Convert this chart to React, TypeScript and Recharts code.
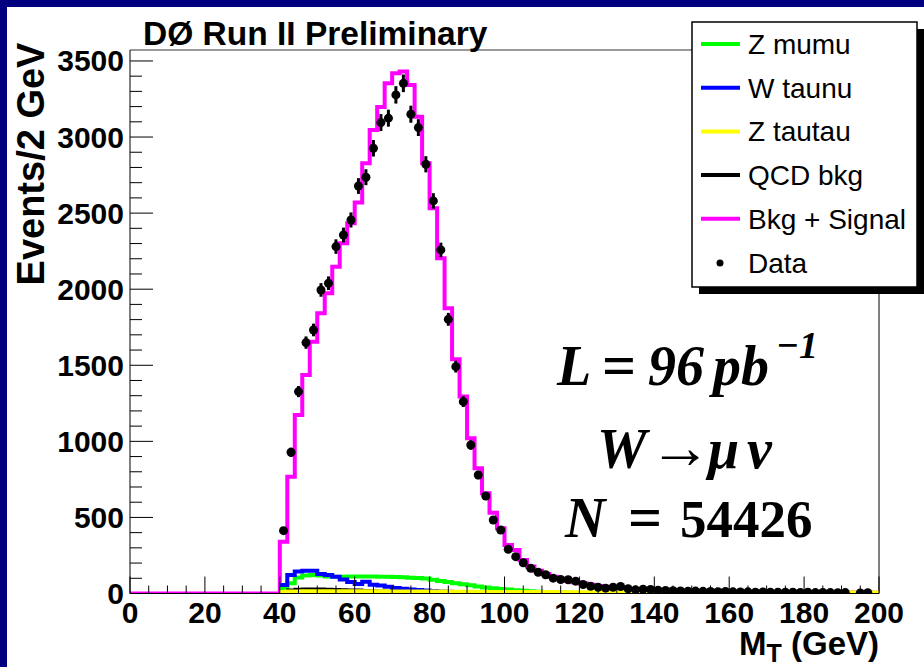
import React from 'react';
import { ComposedChart, Line, Scatter, ErrorBar, XAxis, YAxis, ReferenceLine } from 'recharts';

const W = 924;
const H = 667;

// 2 GeV bins covering 40-200 GeV (80 bins)
const binStart = 40;
const binWidth = 2;

// Bkg + Signal (stacked expectation)
const bkgPlusSignal = [
  340, 768, 1173, 1436, 1655, 1842, 1973, 2148, 2302, 2433,
  2569, 2828, 3046, 3198, 3353, 3419, 3430, 3342, 3134, 2828,
  2532, 2203, 1875, 1539, 1294, 1020, 823, 659, 531, 429,
  319, 286, 220, 178, 150, 128, 110, 96, 84, 74,
  65, 57, 50, 44, 40, 36, 32, 29, 27, 25,
  23, 21, 20, 19, 18, 17, 16, 15, 14, 14,
  13, 12, 12, 11, 11, 10, 10, 9, 9, 9,
  8, 8, 8, 7, 7, 7, 6, 6, 6, 5,
];

const zMumu = [
  30, 67, 105, 118, 122, 118, 112, 110, 110, 112,
  112, 112, 112, 110, 110, 108, 106, 104, 102, 98,
  90, 82, 75, 67, 60, 54, 46, 40, 35, 30,
  26, 22, 18, 15, 12, 10, 8, 6, 5, 4,
  3, 3, 2, 2, 2, 1, 1, 1, 1, 1,
  1, 1, 1, 1, 1, 0, 0, 0, 0, 0,
  0, 0, 0, 0, 0, 0, 0, 0, 0, 0,
  0, 0, 0, 0, 0, 0, 0, 0, 0, 0,
];

const wTaunu = [
  56, 122, 144, 150, 150, 128, 122, 110, 92, 75,
  62, 78, 58, 52, 45, 36, 32, 26, 23, 20,
  16, 13, 11, 9, 7, 6, 5, 4, 3, 3,
  2, 2, 1, 1, 1, 1, 0, 0, 0, 0,
  0, 0, 0, 0, 0, 0, 0, 0, 0, 0,
  0, 0, 0, 0, 0, 0, 0, 0, 0, 0,
  0, 0, 0, 0, 0, 0, 0, 0, 0, 0,
  0, 0, 0, 0, 0, 0, 0, 0, 0, 0,
];

const zTautau = [
  4, 6, 7, 8, 8, 8, 8, 8, 8, 8,
  8, 8, 8, 8, 7, 7, 7, 7, 6, 6,
  6, 6, 5, 5, 5, 5, 4, 4, 4, 4,
  4, 3, 3, 3, 3, 3, 3, 2, 2, 2,
  2, 2, 2, 2, 2, 2, 1, 1, 1, 1,
  1, 1, 1, 1, 1, 1, 1, 1, 1, 1,
  1, 1, 1, 1, 1, 1, 1, 1, 1, 1,
  1, 1, 1, 1, 1, 1, 0, 0, 0, 0,
];

const qcdBkg = [
  12, 24, 30, 32, 32, 31, 30, 28, 27, 25,
  24, 22, 20, 18, 16, 14, 12, 11, 10, 9,
  8, 7, 6, 5, 5, 4, 4, 3, 3, 3,
  2, 2, 2, 2, 2, 2, 2, 2, 2, 2,
  2, 2, 2, 2, 2, 1, 1, 1, 1, 1,
  1, 1, 1, 1, 1, 1, 1, 1, 1, 1,
  1, 1, 1, 1, 1, 1, 1, 1, 1, 1,
  1, 1, 1, 1, 1, 1, 1, 1, 1, 1,
];

// observed events per bin (null = empty bin)
const dataCounts = [
  413, 928, 1327, 1649, 1732, 1995, 2039, 2280, 2356, 2455,
  2678, 2736, 2926, 3095, 3124, 3277, 3353, 3150, 3062, 2821,
  2580, 2258, 1802, 1491, 1261, 976, 779, 641, 483, 417,
  291, 242, 202, 166, 140, 123, 101, 92, 90, 81,
  59, 48, 41, 35, 41, 46, 31, 24, 28, 26,
  22, 20, 18, 17, 15, 16, 14, 13, 12, 13,
  11, 10, 11, 9, 10, 9, 8, 9, 8, 7,
  8, 6, 7, 6, 5, 6, null, 4, 5, null,
];

const xMajor = [0, 20, 40, 60, 80, 100, 120, 140, 160, 180, 200];
const yMajor = [0, 500, 1000, 1500, 2000, 2500, 3000, 3500];
const X_MAX = 200;
const Y_MAX = 3572;

const legendItems = [
  { label: 'Z mumu', color: '#00ff00' },
  { label: 'W taunu', color: '#0000ff' },
  { label: 'Z tautau', color: '#ffff00' },
  { label: 'QCD bkg', color: '#000000' },
  { label: 'Bkg + Signal', color: '#ff00ff' },
];

// step table: one row per bin low edge, plus the closing edge
const steps: any[] = [{ x: 0, sum: 0 }];
for (let i = 0; i <= bkgPlusSignal.length; i++) {
  const k = Math.min(i, bkgPlusSignal.length - 1);
  steps.push({
    x: binStart + i * binWidth,
    sum: bkgPlusSignal[k],
    zmm: zMumu[k],
    wtn: wTaunu[k],
    ztt: zTautau[k],
    qcd: qcdBkg[k],
  });
}

const points = dataCounts
  .map((v, i) => (v == null ? null : { x: binStart + (i + 0.5) * binWidth, y: v, err: Math.sqrt(v) }))
  .filter(Boolean);

// major + minor tick positions
const xTicks: number[] = [];
for (let v = 0; v <= X_MAX; v += 5) xTicks.push(v);
const yTicks: number[] = [];
for (let v = 0; v <= 3500; v += 100) yTicks.push(v);

const SANS = '"Liberation Sans", Arial, Helvetica, sans-serif';
const SERIF = '"Liberation Serif", "Times New Roman", serif';

const XTick = (props: any) => {
  const { x, y, payload } = props;
  const major = xMajor.includes(payload.value);
  return (
    <g>
      <line x1={x} x2={x} y1={y} y2={y - (major ? 17 : 8)} stroke="#000" strokeWidth={1} />
      {major && (
        <text x={x} y={y + 29.5} textAnchor="middle" fontSize={30} fontWeight="bold" fontFamily={SANS} fill="#000">
          {payload.value}
        </text>
      )}
    </g>
  );
};

const YTick = (props: any) => {
  const { x, y, payload } = props;
  const major = yMajor.includes(payload.value);
  return (
    <g>
      <line x1={x} x2={x + (major ? 23 : 12)} y1={y} y2={y} stroke="#000" strokeWidth={1} />
      {major && (
        <text x={x - 6} y={y + 10.5} textAnchor="end" fontSize={30} fontWeight="bold" fontFamily={SANS} fill="#000">
          {payload.value}
        </text>
      )}
    </g>
  );
};

const Overlay = () => (
  <svg width={W} height={H} style={{ position: 'absolute', left: 0, top: 0, pointerEvents: 'none' }}>
    {/* frame border */}
    <rect x={0} y={0} width={7} height={H} fill="#000080" />
    <rect x={0} y={0} width={W} height={7} fill="#000080" />

    <text x={143} y={45} fontSize={33.5} fontWeight="bold" fontFamily={SANS} fill="#000">DØ Run II Preliminary</text>

    <text transform="translate(44,164) rotate(-90)" textAnchor="middle" fontSize={38} fontWeight="bold" fontFamily={SANS} fill="#000">
      Events/2 GeV
    </text>

    <text x={879} y={655} textAnchor="end" fontSize={33} fontWeight="bold" fontFamily={SANS} fill="#000">
      M<tspan fontSize={25} dy={7}>T</tspan>
      <tspan dy={-7}> (GeV)</tspan>
    </text>

    {/* legend */}
    <rect x={699} y={29} width={225} height={265} fill="#000" />
    <rect x={692} y={22} width={225} height={265} fill="#fff" stroke="#000" strokeWidth={1.5} />
    {legendItems.map((it, i) => (
      <g key={it.label}>
        <line x1={701} x2={740} y1={44 + i * 43.7} y2={44 + i * 43.7} stroke={it.color} strokeWidth={4} />
        <text x={748} y={54 + i * 43.7} fontSize={28} fontFamily={SANS} fill="#000">{it.label}</text>
      </g>
    ))}
    <circle cx={720} cy={263} r={3.5} fill="#000" />
    <text x={748} y={273} fontSize={28} fontFamily={SANS} fill="#000">Data</text>

    {/* luminosity / channel / event count */}
    <g fontFamily={SERIF} fontWeight="bold" fill="#000" fontSize={56}>
      <text y={385}>
        <tspan x={557} fontStyle="italic">L</tspan>
        <tspan x={602} fontSize={60}>=</tspan>
        <tspan x={648} fontStyle="italic">96</tspan>
        <tspan x={713} fontStyle="italic">pb</tspan>
        <tspan x={776} dy={-27} fontSize={38} fontStyle="italic">−1</tspan>
      </text>
      <text y={468}>
        <tspan x={597} fontStyle="italic">W</tspan>
        <tspan x={649} fontWeight="normal" fontSize={62}>→</tspan>
        <tspan x={708} fontStyle="italic">μ</tspan>
        <tspan x={747} fontStyle="italic">ν</tspan>
      </text>
      <text y={537}>
        <tspan x={565} fontStyle="italic">N</tspan>
        <tspan x={628} fontSize={60}>=</tspan>
        <tspan x={680} fontSize={53}>54426</tspan>
      </text>
    </g>
  </svg>
);

export default function App() {
  return (
    <div style={{ position: 'absolute', left: 0, top: 0, width: W, height: H, background: '#fff', fontFamily: SANS }}>
      <ComposedChart width={W} height={H} data={steps} margin={{ top: 50, right: 45, bottom: 33.5, left: 70 }}>
        <XAxis
          dataKey="x"
          type="number"
          domain={[0, X_MAX]}
          ticks={xTicks}
          interval={0}
          tick={(p: any) => <XTick {...p} />}
          tickLine={false}
          tickSize={0}
          tickMargin={0}
          axisLine={{ stroke: '#000', strokeWidth: 1 }}
          height={40}
          allowDataOverflow
        />
        <YAxis
          type="number"
          domain={[0, Y_MAX]}
          ticks={yTicks}
          interval={0}
          tick={(p: any) => <YTick {...p} />}
          tickLine={false}
          tickSize={0}
          tickMargin={0}
          axisLine={{ stroke: '#000', strokeWidth: 1 }}
          width={60}
          allowDataOverflow
        />
        <ReferenceLine y={Y_MAX} stroke="#777" strokeWidth={1.5} />
        <ReferenceLine x={X_MAX} stroke="#000" strokeWidth={1} />

        <Line dataKey="sum" type="stepAfter" stroke="#ff00ff" strokeWidth={4} dot={false} isAnimationActive={false} />
        <Line dataKey="zmm" type="stepAfter" stroke="#00ff00" strokeWidth={4} dot={false} isAnimationActive={false} />
        <Line dataKey="wtn" type="stepAfter" stroke="#0000ff" strokeWidth={4} dot={false} isAnimationActive={false} />
        <Line dataKey="qcd" type="stepAfter" stroke="#000000" strokeWidth={2.5} dot={false} isAnimationActive={false} />
        <Line dataKey="ztt" type="stepAfter" stroke="#ffff00" strokeWidth={6} dot={false} isAnimationActive={false} />

        <Scatter
          data={points as any[]}
          dataKey="y"
          fill="#000"
          shape={(p: any) => <circle cx={p.cx} cy={p.cy} r={4.5} fill="#000" />}
          isAnimationActive={false}
        >
          <ErrorBar dataKey="err" direction="y" width={0} stroke="#000" strokeWidth={3} />
        </Scatter>
      </ComposedChart>
      <Overlay />
    </div>
  );
}
